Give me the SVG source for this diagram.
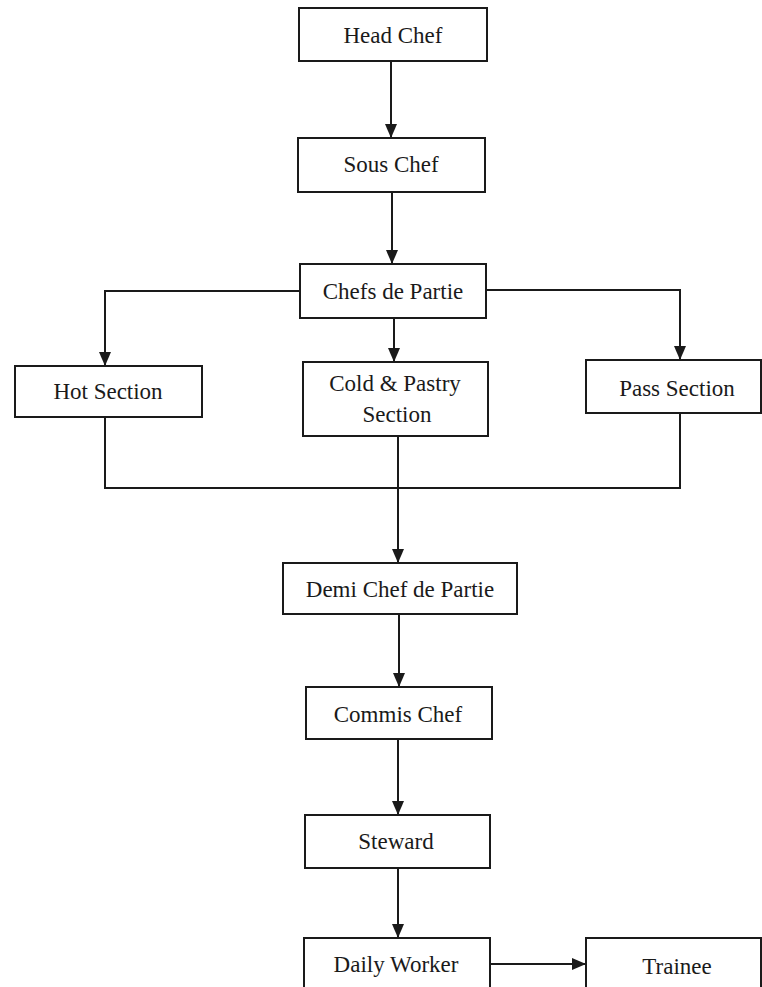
<svg xmlns="http://www.w3.org/2000/svg" width="762" height="987" viewBox="0 0 762 987">
<style>
.box{fill:#fff;stroke:#1a1a1a;stroke-width:2}
.lbl{font-family:"Liberation Serif","Times New Roman",serif;font-size:23px;fill:#1a1a1a;text-anchor:middle}
.ln{fill:none;stroke:#1a1a1a;stroke-width:2}
</style>
<defs>
<marker id="ah" markerWidth="14" markerHeight="12" refX="13" refY="6" orient="auto" markerUnits="userSpaceOnUse" viewBox="0 0 14 12">
<path d="M0,0 L14,6 L0,12 Z" fill="#1a1a1a"/>
</marker>
</defs>
<rect width="762" height="987" fill="#fff"/>
<g id="connectors">
<path class="ln" d="M391,61 V137" marker-end="url(#ah)"/>
<path class="ln" d="M392,192 V263" marker-end="url(#ah)"/>
<path class="ln" d="M300,291 H105 V365" marker-end="url(#ah)"/>
<path class="ln" d="M394,318 V361" marker-end="url(#ah)"/>
<path class="ln" d="M486,290 H680 V359" marker-end="url(#ah)"/>
<path class="ln" d="M105,417 V488 H680 V413"/>
<path class="ln" d="M398,436 V562" marker-end="url(#ah)"/>
<path class="ln" d="M399,614 V686" marker-end="url(#ah)"/>
<path class="ln" d="M398,739 V814" marker-end="url(#ah)"/>
<path class="ln" d="M398,868 V937" marker-end="url(#ah)"/>
<path class="ln" d="M490,964 H585" marker-end="url(#ah)"/>
</g>
<g id="head-chef"><rect class="box" x="299" y="8" width="188" height="53"/><text class="lbl" x="393" y="43">Head Chef</text></g>
<g id="sous-chef"><rect class="box" x="298" y="138" width="187" height="54"/><text class="lbl" x="391" y="172">Sous Chef</text></g>
<g id="chefs-de-partie"><rect class="box" x="300" y="264" width="186" height="54"/><text class="lbl" x="393" y="299">Chefs de Partie</text></g>
<g id="hot-section"><rect class="box" x="15" y="366" width="187" height="51"/><text class="lbl" x="108" y="399">Hot Section</text></g>
<g id="cold-pastry"><rect class="box" x="303" y="362" width="185" height="74"/><text class="lbl" x="395" y="391">Cold &amp; Pastry</text><text class="lbl" x="397" y="422">Section</text></g>
<g id="pass-section"><rect class="box" x="586" y="360" width="175" height="53"/><text class="lbl" x="677" y="396">Pass Section</text></g>
<g id="demi-chef"><rect class="box" x="283" y="563" width="234" height="51"/><text class="lbl" x="400" y="597">Demi Chef de Partie</text></g>
<g id="commis-chef"><rect class="box" x="306" y="687" width="186" height="52"/><text class="lbl" x="398" y="722">Commis Chef</text></g>
<g id="steward"><rect class="box" x="305" y="815" width="185" height="53"/><text class="lbl" x="396" y="849">Steward</text></g>
<g id="daily-worker"><rect class="box" x="304" y="938" width="186" height="60"/><text class="lbl" x="396" y="972">Daily Worker</text></g>
<g id="trainee"><rect class="box" x="586" y="938" width="175" height="60"/><text class="lbl" x="677" y="974">Trainee</text></g>
</svg>
